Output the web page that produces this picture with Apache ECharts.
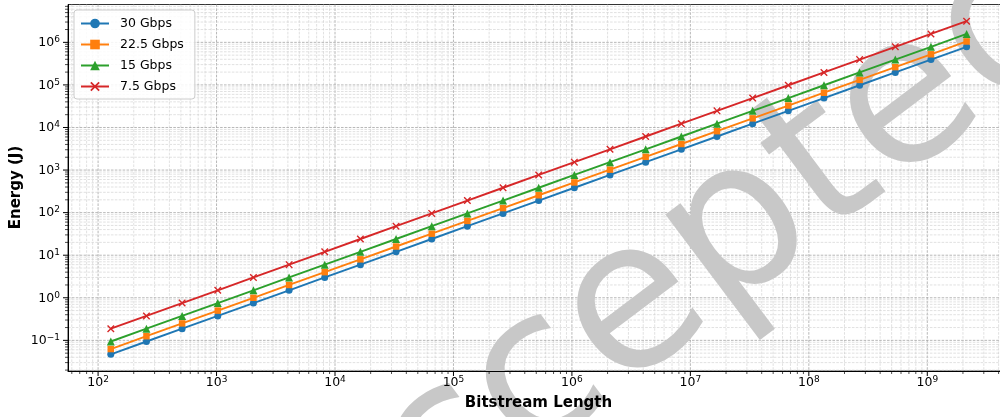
<!DOCTYPE html>
<html>
<head>
<meta charset="utf-8">
<script src="https://cdn.jsdelivr.net/npm/echarts@6/dist/echarts.min.js"></script>
<style>
html,body{margin:0;padding:0;background:#fff;}
#chart{width:1000px;height:417px;}
</style>
</head>
<body>
<div id="chart"></div>
<script>
// ---- data ----
var bitLengths = [128, 256, 512, 1024, 2048, 4096, 8192, 16384, 32768, 65536, 131072, 262144, 524288, 1048576, 2097152, 4194304, 8388608, 16777216, 33554432, 67108864, 134217728, 268435456, 536870912, 1073741824, 2147483648];
var energy30 = [0.047, 0.094, 0.1875, 0.375, 0.75, 1.5, 3, 6, 12, 24, 48, 96, 192, 384, 768, 1536, 3072, 6144, 12288, 24576, 49152, 98304, 196608, 393216, 786432];
var energy22 = [0.0625, 0.125, 0.25, 0.5, 1, 2, 4, 8, 16, 32, 64, 128, 256, 512, 1024, 2048, 4096, 8192, 16384, 32768, 65536, 131072, 262144, 524288, 1048576];
var energy15 = [0.094, 0.1875, 0.375, 0.75, 1.5, 3, 6, 12, 24, 48, 96, 192, 384, 768, 1536, 3072, 6144, 12288, 24576, 49152, 98304, 196608, 393216, 786432, 1572864];
var energy7 = [0.1875, 0.375, 0.75, 1.5, 3, 6, 12, 24, 48, 96, 192, 384, 768, 1536, 3072, 6144, 12288, 24576, 49152, 98304, 196608, 393216, 786432, 1572864, 3145728];
var seriesNames = ['30 Gbps', '22.5 Gbps', '15 Gbps', '7.5 Gbps'];
var xTitle = 'Bitstream Length';
var yTitle = 'Energy (J)';
var watermark = 'Accepted';

// ---- axis ranges (log) ----
var xMin = Math.pow(10, 1.746), xMax = Math.pow(10, 9.6932);
var yMin = Math.pow(10, -1.720), yMax = Math.pow(10, 6.889);

// tick values for the log grid (major decades + minor 2..9)
function decadeTicks(lo, hi) {
  var out = [];
  for (var e = Math.floor(Math.log10(lo)); e <= Math.ceil(Math.log10(hi)); e++) {
    for (var m = 1; m <= 9; m++) {
      var v = m * Math.pow(10, e);
      if (v >= lo && v <= hi) out.push([v, m === 1 ? 1 : 0]);
    }
  }
  return out;
}
var gridData = [];
decadeTicks(xMin, xMax).forEach(function (t) { gridData.push([t[0], 1, t[1], 0]); });
decadeTicks(yMin, yMax).forEach(function (t) { gridData.push([1000, t[0], t[1], 1]); });

var colors = ['#1f77b4', '#ff7f0e', '#2ca02c', '#d62728'];
var xSymbol = 'path://M0,1.3L1.3,0L5,3.7L8.7,0L10,1.3L6.3,5L10,8.7L8.7,10L5,6.3L1.3,10L0,8.7L3.7,5Z';
var FONT = 'DejaVu Sans';

function pairs(arr) { return bitLengths.map(function (x, i) { return [x, arr[i]]; }); }

function expLabel(v) {
  var e = Math.log10(v);
  var r = Math.round(e);
  if (Math.abs(e - r) > 1e-6) return '';
  var s = r < 0 ? '\u2212' + (-r) : String(r);
  return '{b|10}{s|' + s + '}';
}
var richLabel = {
  b: { fontSize: 12.5, fontFamily: FONT, color: '#000', lineHeight: 14, verticalAlign: 'bottom' },
  s: { fontSize: 9, fontFamily: FONT, color: '#000', lineHeight: 12, verticalAlign: 'top', padding: [0, 0, 6, 0] }
};

function gridRender(params, api) {
  var cs = params.coordSys;
  var isY = api.value(3) === 1;
  var major = api.value(2) === 1;
  var p = api.coord([api.value(0), api.value(1)]);
  var style = { stroke: major ? '#a6a6a6' : '#cccccc', lineWidth: major ? 0.8 : 0.6, lineDash: [2.6, 1.3] };
  if (!isY) {
    return { type: 'line', shape: { x1: p[0], y1: cs.y, x2: p[0], y2: cs.y + cs.height }, style: style };
  }
  return { type: 'line', shape: { x1: cs.x, y1: p[1], x2: cs.x + cs.width, y2: p[1] }, style: style };
}
function tickRender(params, api) {
  var cs = params.coordSys;
  var isY = api.value(3) === 1;
  var major = api.value(2) === 1;
  var p = api.coord([api.value(0), api.value(1)]);
  var len = major ? 5 : 3;
  var style = { stroke: '#000', lineWidth: major ? 1 : 0.7 };
  if (!isY) {
    var b = cs.y + cs.height;
    return { type: 'line', shape: { x1: p[0], y1: b, x2: p[0], y2: b + len }, style: style };
  }
  return { type: 'line', shape: { x1: cs.x - len, y1: p[1], x2: cs.x, y2: p[1] }, style: style };
}

var symbols = ['circle', 'rect', 'triangle', xSymbol];
var sizes = [7, 6.5, 8, 7.5];
var dataSets = [energy30, energy22, energy15, energy7];

var series = dataSets.map(function (d, i) {
  return {
    name: seriesNames[i], type: 'line', data: pairs(d), z: 5,
    symbol: symbols[i], symbolSize: sizes[i], showSymbol: true, showAllSymbol: true,
    lineStyle: { color: colors[i], width: 1.9 },
    itemStyle: { color: colors[i] },
    emphasis: { disabled: true }
  };
});
series.unshift({
  type: 'custom', name: 'grid', data: gridData, renderItem: gridRender, z: 0, silent: true,
  encode: { x: 0, y: 1 }, clip: false
});
series.push({
  type: 'custom', name: 'ticks', data: gridData, renderItem: tickRender, z: 6, silent: true,
  encode: { x: 0, y: 1 }, clip: false
});

var chart = echarts.init(document.getElementById('chart'), null, { renderer: 'canvas' });
chart.setOption({
  animation: false,
  backgroundColor: '#fff',
  textStyle: { fontFamily: FONT },
  grid: { left: 68, top: 4.5, bottom: 46, right: -9.4, show: true, borderColor: '#333', borderWidth: 1, containLabel: false, outerBoundsMode: 'none', z: 0 },
  legend: {
    data: seriesNames, orient: 'vertical', left: 74, top: 10,
    itemWidth: 28, itemHeight: 12, itemGap: 8,
    padding: [7, 11, 6, 6],
    backgroundColor: 'rgba(255,255,255,0.85)', borderColor: '#cccccc', borderWidth: 1, borderRadius: 3,
    textStyle: { fontSize: 12.5, fontFamily: FONT, color: '#000', padding: [0, 0, 0, 6] },
    z: 10
  },
  xAxis: {
    type: 'log', logBase: 10, min: xMin, max: xMax, z: 6,
    axisLine: { show: true, lineStyle: { color: '#000', width: 1 } },
    axisTick: { show: false }, splitLine: { show: false }, minorTick: { show: false }, minorSplitLine: { show: false },
    axisLabel: { show: true, margin: 4, formatter: expLabel, rich: richLabel, showMinLabel: false, showMaxLabel: false }
  },
  yAxis: {
    type: 'log', logBase: 10, min: yMin, max: yMax, z: 6,
    axisLine: { show: true, lineStyle: { color: '#000', width: 1 } },
    axisTick: { show: false }, splitLine: { show: false }, minorTick: { show: false }, minorSplitLine: { show: false },
    axisLabel: { show: true, margin: 8, formatter: expLabel, rich: richLabel, showMinLabel: false, showMaxLabel: false }
  },
  graphic: [
    { type: 'text', x: 290.6, y: 571.7, rotation: 37 * Math.PI / 180, z: 1, silent: true,
      style: { text: watermark, fontSize: 208, fontFamily: FONT, fill: '#c8c8c8', align: 'left', verticalAlign: 'middle' } },
    { type: 'text', x: 538.5, y: 403, z: 20, silent: true,
      style: { text: xTitle, fontSize: 15, fontWeight: 'bold', fontFamily: FONT, fill: '#000', align: 'center', verticalAlign: 'middle' } },
    { type: 'text', x: 16.5, y: 187.5, rotation: Math.PI / 2, z: 20, silent: true,
      style: { text: yTitle, fontSize: 15, fontWeight: 'bold', fontFamily: FONT, fill: '#000', align: 'center', verticalAlign: 'middle' } }
  ],
  series: series
});
</script>
</body>
</html>
